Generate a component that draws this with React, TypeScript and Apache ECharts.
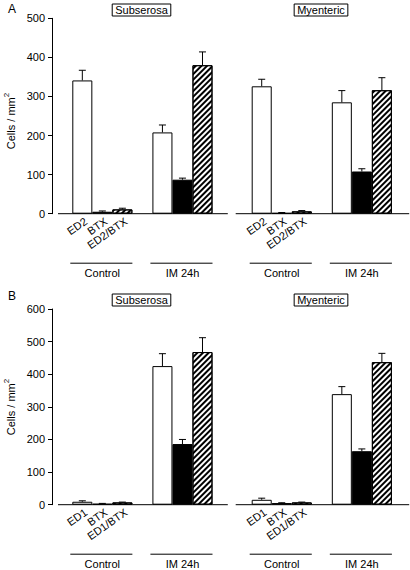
import React, { useEffect, useRef } from 'react';
import * as echarts from 'echarts';

const conditions = ['Control', 'IM 24h'];
const markersA = ['ED2', 'BTX', 'ED2/BTX'];
const markersB = ['ED1', 'BTX', 'ED1/BTX'];
const regions = ['Subserosa', 'Myenteric'];
const panelLetters = ['A', 'B'];
const yLabel = 'Cells / mm';
const yLabelSup = '2';

// values: Control (3 markers) then IM 24h (3 markers)
const aSubMean = [341, 5, 11, 208, 87, 380];
const aSubErr = [26, 2, 3, 19, 4, 34];
const aMyeMean = [326, 2, 6, 285, 108, 316];
const aMyeErr = [18, 1, 2, 30, 7, 32];
const bSubMean = [9, 3, 7, 425, 186, 468];
const bSubErr = [3, 1, 1, 38, 14, 44];
const bMyeMean = [15, 5, 7, 339, 164, 437];
const bMyeErr = [5, 1, 1, 23, 7, 27];

const yMaxA = 500;
const yMaxB = 600;
const yStep = 100;

const FONT = "'Liberation Sans', Arial, Helvetica, sans-serif";

function slots<T>(arr: T[]): (T | null)[] {
  return [arr[0], arr[1], arr[2], null, arr[3], arr[4], arr[5]];
}

export default function App() {
  const ref = useRef<HTMLDivElement>(null);
  useEffect(() => {
    document.body.style.margin = '0';
    if (!ref.current) return;
    const chart = echarts.init(ref.current, null, { renderer: 'svg' });

    const panels = [
      { markers: markersA, mean: aSubMean, err: aSubErr, yMax: yMaxA, left: 72.3, top: 18.3, height: 195.4, showY: true, padL: 14.3, padR: 15.3 },
      { markers: markersA, mean: aMyeMean, err: aMyeErr, yMax: yMaxA, left: 251.7, top: 18.3, height: 195.4, showY: false, padL: 16, padR: 17.3 },
      { markers: markersB, mean: bSubMean, err: bSubErr, yMax: yMaxB, left: 72.3, top: 309, height: 195.7, showY: true, padL: 14.3, padR: 15.3 },
      { markers: markersB, mean: bMyeMean, err: bMyeErr, yMax: yMaxB, left: 251.7, top: 309, height: 195.7, showY: false, padL: 16, padR: 17.3 },
    ];
    const W = 140.2;

    const grid = panels.map((p) => ({ left: p.left, top: p.top, width: W, height: p.height }));
    const xAxis = panels.map((p, i) => ({
      type: 'category',
      gridIndex: i,
      data: slots(p.markers).map((m) => m ?? ''),
      axisLine: { show: false },
      axisTick: { show: false },
      axisLabel: {
        rotate: 35,
        interval: 0,
        margin: 8.7,
        padding: [0, -4.3, 0, 0],
        fontSize: 11,
        fontFamily: FONT,
        color: '#000',
      },
    }));
    const yAxis = panels.map((p, i) => ({
      type: 'value',
      gridIndex: i,
      show: p.showY,
      min: 0,
      max: p.yMax,
      interval: yStep,
      offset: 20.3,
      axisLine: { show: true, lineStyle: { color: '#000', width: 1 } },
      axisTick: { show: true, length: 4, lineStyle: { color: '#000' } },
      axisLabel: { margin: 7, fontSize: 11, fontFamily: FONT, color: '#000' },
      splitLine: { show: false },
    }));

    const series: any[] = [];
    panels.forEach((p, i) => {
      const means = slots(p.mean);
      series.push({
        type: 'bar',
        xAxisIndex: i,
        yAxisIndex: i,
        barCategoryGap: '0%',
        data: means.map((v, k) => {
          if (v === null) return '-';
          const kind = k < 3 ? k : k - 4;
          const style: any = { borderColor: '#000', borderWidth: 1 };
          if (kind === 0) style.color = '#fff';
          else if (kind === 1) style.color = '#000';
          else {
            style.color = '#fff';
            style.decal = {
              symbol: 'rect',
              symbolSize: 1,
              color: '#000',
              dashArrayX: [1, 0],
              dashArrayY: [1.3, 1.7],
              rotation: -Math.PI / 4,
            };
          }
          return { value: v, itemStyle: style };
        }),
        z: 2,
      });
      const errs = slots(p.err);
      series.push({
        type: 'custom',
        xAxisIndex: i,
        yAxisIndex: i,
        z: 3,
        data: means
          .map((v, k) => (v === null ? null : [k, v, errs[k]]))
          .filter((d) => d !== null),
        renderItem: (params: any, api: any) => {
          const x = api.value(0);
          const v = api.value(1);
          const e = api.value(2);
          const a = api.coord([x, v]);
          const b = api.coord([x, v + e]);
          const st = { stroke: '#000', lineWidth: 1 };
          return {
            type: 'group',
            children: [
              { type: 'line', shape: { x1: a[0], y1: a[1], x2: b[0], y2: b[1] }, style: st },
              { type: 'line', shape: { x1: b[0] - 3.5, y1: b[1], x2: b[0] + 3.5, y2: b[1] }, style: st },
            ],
          };
        },
      });
      // baseline
      series.push({
        type: 'custom',
        xAxisIndex: i,
        yAxisIndex: i,
        z: 4,
        data: [[0, 0, 6]],
        renderItem: (params: any, api: any) => {
          const a = api.coord([api.value(0), 0]);
          const b = api.coord([api.value(2), 0]);
          const bw = api.size([1, 0])[0];
          return {
            type: 'line',
            shape: { x1: a[0] - bw / 2 - p.padL, y1: a[1], x2: b[0] + bw / 2 + p.padR, y2: b[1] },
            style: { stroke: '#000', lineWidth: 1 },
          };
        },
      });
      // group brackets
      series.push({
        type: 'custom',
        xAxisIndex: i,
        yAxisIndex: i,
        z: 4,
        data: [[0, 0, 2], [4, 0, 6]],
        renderItem: (params: any, api: any) => {
          const a = api.coord([api.value(0), 0]);
          const b = api.coord([api.value(2), 0]);
          const bw = api.size([1, 0])[0];
          const x0 = a[0] - bw / 2 - 2;
          const x1 = b[0] + bw / 2;
          const y = a[1] + 49.5;
          return {
            type: 'group',
            children: [
              { type: 'line', shape: { x1: x0, y1: y, x2: x1, y2: y }, style: { stroke: '#000', lineWidth: 1 } },
              {
                type: 'text',
                style: {
                  text: conditions[params.dataIndex],
                  x: (x0 + x1) / 2 + 1,
                  y: y + 10,
                  align: 'center',
                  verticalAlign: 'middle',
                  fontSize: 11,
                  lineHeight: 11,
                  fontFamily: FONT,
                  fill: '#000',
                },
              },
            ],
          };
        },
      });
    });

    const titleStyle = (text: string, x: number, y: number) => ({
      type: 'text',
      x,
      y,
      style: {
        text,
        align: 'center',
        verticalAlign: 'middle',
        fontSize: 11,
        fontFamily: FONT,
        fill: '#000',
        borderColor: '#000',
        borderWidth: 1,
        padding: [1, 3, 0, 3],
        lineHeight: 11,
      },
    });

    const yName = (x: number, y: number) => ({
      type: 'text',
      x,
      y,
      rotation: Math.PI / 2,
      style: {
        text: `{n|${yLabel}}{s|${yLabelSup}}`,
        align: 'center',
        verticalAlign: 'middle',
        fill: '#000',
        rich: {
          n: { fontSize: 11, fontFamily: FONT, lineHeight: 14, verticalAlign: 'bottom' },
          s: { fontSize: 8, fontFamily: FONT, lineHeight: 14, verticalAlign: 'top' },
        },
      },
    });

    const letter = (text: string, x: number, y: number) => ({
      type: 'text',
      x,
      y,
      style: { text, fontSize: 12, fontFamily: FONT, fill: '#000', align: 'left', verticalAlign: 'middle' },
    });

    chart.setOption({
      animation: false,
      backgroundColor: '#fff',
      grid,
      xAxis,
      yAxis,
      series,
      graphic: [
        letter(panelLetters[0], 8, 9),
        letter(panelLetters[1], 8, 296),
        titleStyle(regions[0], 141.5, 10),
        titleStyle(regions[1], 321, 10),
        titleStyle(regions[0], 141.5, 300),
        titleStyle(regions[1], 321, 300),
        yName(9, 121),
        yName(9, 407),
      ],
    });
    return () => chart.dispose();
  }, []);
  return <div ref={ref} style={{ width: 410, height: 570 }} />;
}
